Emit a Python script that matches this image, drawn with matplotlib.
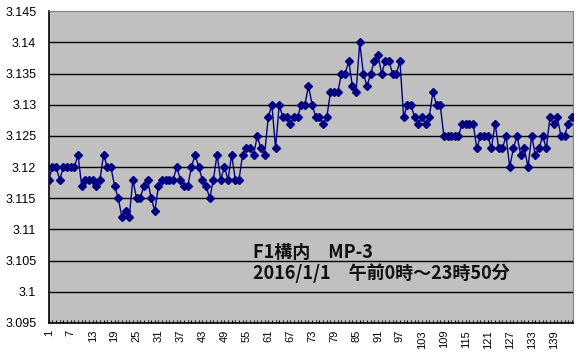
import matplotlib
matplotlib.use("Agg")
import matplotlib.pyplot as plt
from matplotlib.ticker import FuncFormatter, MultipleLocator

# 10分ごとの計測値 (1〜144)
values = [
    3.118, 3.120, 3.120, 3.118, 3.120, 3.120, 3.120, 3.120, 3.122, 3.117,
    3.118, 3.118, 3.118, 3.117, 3.118, 3.122, 3.120, 3.120, 3.117, 3.115,
    3.112, 3.113, 3.112, 3.118, 3.115, 3.115, 3.117, 3.118, 3.115, 3.113,
    3.117, 3.118, 3.118, 3.118, 3.118, 3.120, 3.118, 3.117, 3.117, 3.120,
    3.122, 3.120, 3.118, 3.117, 3.115, 3.118, 3.122, 3.118, 3.120, 3.118,
    3.122, 3.118, 3.118, 3.122, 3.123, 3.123, 3.122, 3.125, 3.123, 3.122,
    3.128, 3.130, 3.123, 3.130, 3.128, 3.128, 3.127, 3.128, 3.128, 3.130,
    3.130, 3.133, 3.130, 3.128, 3.128, 3.127, 3.128, 3.132, 3.132, 3.132,
    3.135, 3.135, 3.137, 3.133, 3.132, 3.140, 3.135, 3.133, 3.135, 3.137,
    3.138, 3.135, 3.137, 3.137, 3.135, 3.135, 3.137, 3.128, 3.130, 3.130,
    3.128, 3.127, 3.128, 3.127, 3.128, 3.132, 3.130, 3.130, 3.125, 3.125,
    3.125, 3.125, 3.125, 3.127, 3.127, 3.127, 3.127, 3.123, 3.125, 3.125,
    3.125, 3.123, 3.127, 3.123, 3.123, 3.125, 3.120, 3.123, 3.125, 3.122,
    3.123, 3.120, 3.125, 3.122, 3.123, 3.125, 3.123, 3.128, 3.127, 3.128,
    3.125, 3.125, 3.127, 3.128,
]
x = list(range(1, len(values) + 1))
xtick_labels = list(range(1, 145, 6))
title_lines = ["F1構内　MP-3", "2016/1/1　午前0時～23時50分"]

fig = plt.figure(figsize=(5.78, 3.59), dpi=100)
ax = fig.add_axes([0.0843, 0.1003, 0.9077, 0.8682])
ax.set_facecolor("#C0C0C0")

# 目盛線
for yv in [3.10, 3.105, 3.11, 3.115, 3.12, 3.125, 3.13, 3.135, 3.14]:
    ax.axhline(yv, color="black", lw=1, zorder=1)

ax.plot(x, values, color="#000080", lw=1, marker="D", ms=3.8,
        mec="#000080", mfc="#000080", zorder=3)

ax.set_xlim(1, 144.4)
ax.set_ylim(3.095, 3.145)
ax.yaxis.set_major_locator(MultipleLocator(0.005))
ax.yaxis.set_major_formatter(FuncFormatter(lambda v, p: "%g" % round(v, 3)))
ax.tick_params(axis="y", length=0, pad=9, labelsize=9)

ax.set_xticks(xtick_labels)
ax.set_xticklabels([str(v) for v in xtick_labels], rotation=90, fontsize=8)
ax.xaxis.set_minor_locator(MultipleLocator(1))
ax.tick_params(axis="x", which="both", direction="in", length=2.5, width=0.8, pad=5)

for s in ["top", "right"]:
    ax.spines[s].set_color("#808080")
for s in ["left", "bottom"]:
    ax.spines[s].set_color("black")
    ax.spines[s].set_linewidth(1.2)

for lab in ax.get_xticklabels() + ax.get_yticklabels():
    lab.set_family("Liberation Sans")

# グラフ内の注記
fig.text(253 / 578, 1 - 252 / 359, title_lines[0], fontsize=13, fontweight="bold",
         family=["Noto Sans CJK JP", "DejaVu Sans"], va="center", ha="left", color="#111111")
fig.text(253 / 578, 1 - 273 / 359, title_lines[1], fontsize=13, fontweight="bold",
         family=["Noto Sans CJK JP", "DejaVu Sans"], va="center", ha="left", color="#111111")

fig.savefig("out.png", dpi=100)
